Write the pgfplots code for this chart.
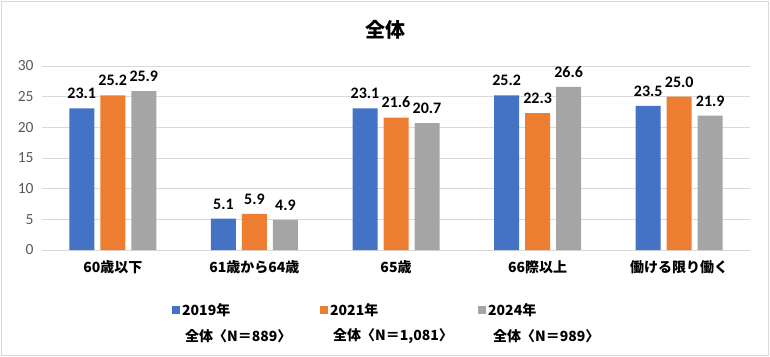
\documentclass[border=0pt]{standalone}
\usepackage{pgfplots}
\pgfplotsset{compat=1.18}
\usepackage{fontspec}
\setmainfont{Noto Sans CJK JP}
\newfontfamily\numfont{Carlito}
\definecolor{c1}{HTML}{4472C4}
\definecolor{c2}{HTML}{ED7D31}
\definecolor{c3}{HTML}{A5A5A5}
\definecolor{gridc}{HTML}{D9D9D9}
\definecolor{tickc}{HTML}{595959}
\begin{document}
\begin{tikzpicture}
\path (0pt,0pt) rectangle (770pt,356pt);
\draw[gridc, line width=0.8pt] (1pt,1pt) rectangle (768pt,355pt);
\node[font=\fontsize{20}{24}\selectfont\bfseries] at (385pt,326pt) {全体};
\begin{axis}[
  at={(42pt,106pt)}, anchor=south west, scale only axis,
  width=708pt, height=184pt,
  ymin=0, ymax=30, ytick={0,5,...,30},
  xmin=-0.5, xmax=4.5, xtick={0,1,2,3,4},
  xticklabels={60歳以下,61歳から64歳,65歳,66際以上,働ける限り働く},
  ybar=6pt, bar width=25pt,
  axis line style={draw=none},
  major tick length=0pt,
  ymajorgrids, grid style={gridc, line width=0.8pt},
  /pgf/number format/assume math mode=true,
  yticklabel style={text=tickc, font=\numfont\fontsize{15.5}{17}\selectfont, xshift=-5pt},
  xticklabel style={font=\fontsize{14}{16}\selectfont\bfseries, yshift=-7pt},
  nodes near coords={\pgfmathprintnumber[fixed,fixed zerofill,precision=1]{\pgfplotspointmeta}},
  every node near coord/.append style={font=\numfont\fontsize{16}{18}\selectfont\bfseries, text=black, yshift=6pt},
  legend columns=3,
  legend style={draw=none, at={(0.1836,-0.326)}, anchor=west, inner sep=0pt,
    font=\fontsize{14}{16}\selectfont\bfseries, /tikz/every even column/.append style={column sep=0pt}},
  legend cell align=left,
  legend image code/.code={\fill[#1,draw=none] (0pt,-4pt) rectangle (8pt,4pt);},
]
\addplot[fill=c1, draw=none] coordinates {(0,23.1) (1,5.1) (2,23.1) (3,25.2) (4,23.5)};
\addplot[fill=c2, draw=none] coordinates {(0,25.2) (1,5.9) (2,21.6) (3,22.3) (4,25.0)};
\addplot[fill=c3, draw=none] coordinates {(0,25.9) (1,4.9) (2,20.7) (3,26.6) (4,21.9)};
\addlegendentry{\makebox[136pt][l]{2019年}}
\addlegendentry{\makebox[146pt][l]{2021年}}
\addlegendentry{2024年}
\end{axis}
\begin{scope}[font=\fontsize{14}{16}\selectfont\bfseries]
\node[anchor=west, inner sep=0pt] at (185pt,20pt) {全体〈N＝889〉};
\node[anchor=west, inner sep=0pt] at (333pt,20pt) {全体〈N＝1,081〉};
\node[anchor=west, inner sep=0pt] at (493pt,20pt) {全体〈N＝989〉};
\end{scope}
\end{tikzpicture}
\end{document}
